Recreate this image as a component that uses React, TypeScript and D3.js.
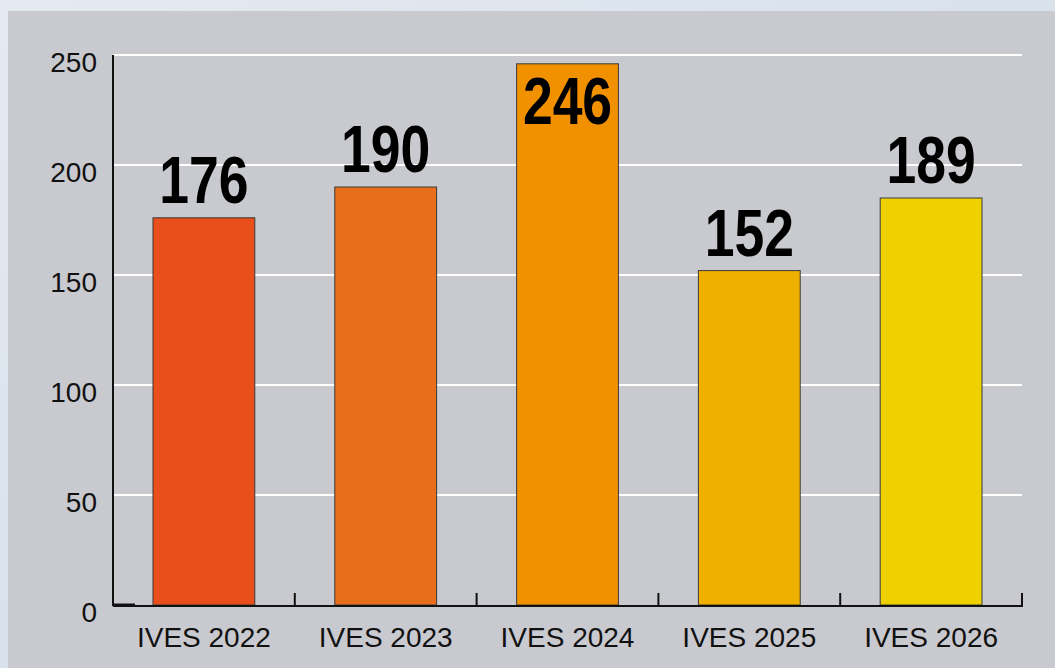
import React from 'react'
import * as d3 from 'd3'

const categories = ['IVES 2022', 'IVES 2023', 'IVES 2024', 'IVES 2025', 'IVES 2026']
const barValues = [176, 190, 246, 152, 185]
const valueLabels = ['176', '190', '246', '152', '189']
const barColors = ['#e94e1b', '#e86e1c', '#f29100', '#f0b000', '#efd100']
const yTicks = [0, 50, 100, 150, 200, 250]

const W = 1055
const H = 668

function App() {
  const left = 113
  const right = 1022
  const top = 55
  const bottom = 605

  const x = d3.scaleBand<string>()
    .domain(categories)
    .range([left, right])
    .paddingInner(0.44)
    .paddingOuter(0.22)
  const y = d3.scaleLinear().domain([0, 250]).range([bottom, top])
  const step = x.step()

  return (
    <div style={{ position: 'absolute', left: 0, top: 0 }}>
      <svg width={W} height={H} style={{ display: 'block', fontFamily: 'Arial, "Liberation Sans", Helvetica, sans-serif' }}>
        <defs>
          <linearGradient id="bg" x1="0" y1="0" x2="1" y2="1">
            <stop offset="0" stopColor="#e4eaf1" />
            <stop offset="0.5" stopColor="#d9e1eb" />
            <stop offset="1" stopColor="#e2e8ef" />
          </linearGradient>
        </defs>
        <rect x={0} y={0} width={W} height={H} fill="url(#bg)" />
        <rect x={8} y={11} width={W - 8} height={H - 11} fill="#c9cacf" />

        {/* grid */}
        {yTicks.filter(t => t > 0).map(t => (
          <line key={t} x1={left} x2={right} y1={y(t)} y2={y(t)} stroke="#ffffff" strokeWidth={2} />
        ))}

        {/* y labels */}
        {yTicks.map(t => (
          <text key={t} x={97} y={y(t) + 17} textAnchor="end" fontSize={28} fill="#111">{t}</text>
        ))}

        {/* bars */}
        {categories.map((c, i) => (
          <rect key={c} x={x(c)} y={y(barValues[i])} width={x.bandwidth()} height={bottom - y(barValues[i])}
            fill={barColors[i]} stroke="#3a3a3a" strokeWidth={1} />
        ))}

        {/* axes */}
        <line x1={left} x2={left} y1={top} y2={bottom + 1} stroke="#111" strokeWidth={2} />
        <line x1={left} x2={right + 1} y1={bottom + 1} y2={bottom + 1} stroke="#111" strokeWidth={2} />
        <line x1={left} x2={left + 22} y1={bottom} y2={bottom} stroke="#111" strokeWidth={3} />
        {categories.map((c, i) => (
          <line key={c} x1={left + step * (i + 1)} x2={left + step * (i + 1)} y1={bottom - 12} y2={bottom + 1}
            stroke="#111" strokeWidth={2} />
        ))}

        {/* x labels */}
        {categories.map(c => (
          <text key={c} x={(x(c) as number) + x.bandwidth() / 2} y={647} textAnchor="middle" fontSize={28} fill="#111">{c}</text>
        ))}

        {/* value labels, condensed bold */}
        {categories.map((c, i) => {
          const by = y(barValues[i])
          const inside = by - 15 - 48 < top
          const cx = (x(c) as number) + x.bandwidth() / 2
          const ty = inside ? by + 60 : by - 15
          return (
            <text key={c} transform={`translate(${cx},${ty}) scale(0.81,1)`}
              textAnchor="middle" fontSize={66} fontWeight="bold" fill="#000">
              {valueLabels[i]}
            </text>
          )
        })}
      </svg>
    </div>
  )
}

export default App
